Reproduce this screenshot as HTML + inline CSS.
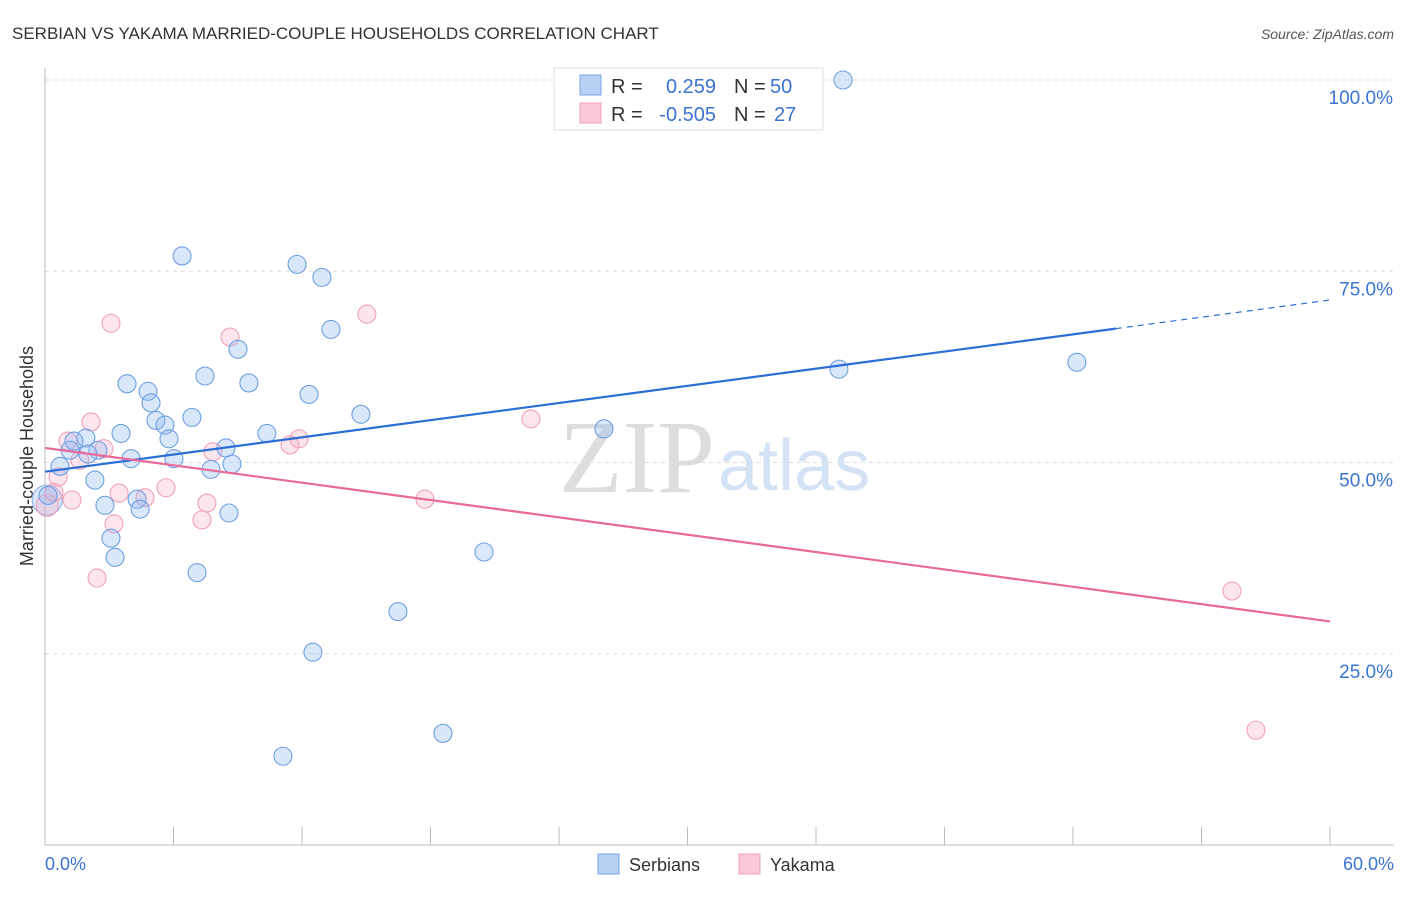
<!DOCTYPE html>
<html><head><meta charset="utf-8"><style>
body{margin:0;background:#fff;font-family:"Liberation Sans",sans-serif}
</style></head><body>
<svg id="chart" width="1406" height="892" xmlns="http://www.w3.org/2000/svg" font-family="Liberation Sans, sans-serif">
<text x="12" y="39" font-size="17" fill="#333">SERBIAN VS YAKAMA MARRIED-COUPLE HOUSEHOLDS CORRELATION CHART</text>
<text x="1394" y="39" font-size="14" fill="#555" font-style="italic" text-anchor="end">Source: ZipAtlas.com</text>
<text x="33" y="456" font-size="18" fill="#333" text-anchor="middle" transform="rotate(-90 33 456)">Married-couple Households</text>
<g id="grid"></g>
<line x1="45" y1="68" x2="45" y2="845" stroke="#bbb"/>
<line x1="45" y1="845" x2="1394" y2="845" stroke="#bbb"/>
<text x="715" y="492" font-size="104" fill="#ddd" text-anchor="end" font-family="Liberation Serif, serif">ZIP</text>
<text x="718" y="490" font-size="72" fill="#d4e2f6">atlas</text>
<g id="ticks"></g>
<g id="marks"></g>
<text x="45" y="870" font-size="18" fill="#3b73d1">0.0%</text>
<text x="1394" y="870" font-size="18" fill="#3b73d1" text-anchor="end">60.0%</text>
<g>
<rect x="554" y="68" width="269" height="62" fill="#fff" stroke="#ddd"/>
<rect x="580" y="75" width="21" height="20" fill="#b7d1f5" stroke="#7aa6e6"/>
<rect x="580" y="103" width="21" height="20" fill="#fac8d6" stroke="#f0a0b8"/>
<text x="611" y="93" font-size="20" fill="#333">R =</text><text x="716" y="93" font-size="20" fill="#3b73d1" text-anchor="end">0.259</text>
<text x="734" y="93" font-size="20" fill="#333">N =</text><text x="770" y="93" font-size="20" fill="#3b73d1">50</text>
<text x="611" y="121" font-size="20" fill="#333">R =</text><text x="716" y="121" font-size="20" fill="#3b73d1" text-anchor="end">-0.505</text>
<text x="734" y="121" font-size="20" fill="#333">N =</text><text x="774" y="121" font-size="20" fill="#3b73d1">27</text>
</g>
<g>
<rect x="598" y="854" width="21" height="20" fill="#b7d1f5" stroke="#7aa6e6"/>
<text x="629" y="871" font-size="18" fill="#333">Serbians</text>
<rect x="739" y="854" width="21" height="20" fill="#fac8d6" stroke="#f0a0b8"/>
<text x="770" y="871" font-size="18" fill="#333">Yakama</text>
</g>
</svg>
<script>
const yTicks=[25,50,75,100];
const yTickLabels=["25.0%","50.0%","75.0%","100.0%"];
const xTicks=[0,6,12,18,24,30,36,42,48,54,60];
const serbX=[37.26,6.40,11.77,12.93,13.35,9.01,48.18,37.07,7.47,3.83,9.52,4.81,12.33,4.95,6.86,14.75,5.18,5.60,26.10,3.55,10.36,5.79,1.91,1.35,8.45,2.47,1.17,2.01,4.02,6.02,8.73,0.70,7.75,2.33,0.14,4.30,2.80,4.44,8.59,3.08,3.27,20.50,7.10,16.48,12.51,18.58,11.11];
const serbY=[100,77.0,75.9,74.2,67.4,64.8,63.1,62.2,61.3,60.3,60.4,59.3,58.9,57.8,55.9,56.3,55.5,54.9,54.4,53.8,53.8,53.1,53.2,52.8,51.9,51.6,51.6,51.1,50.5,50.5,49.8,49.5,49.1,47.7,45.7,45.2,44.4,43.9,43.4,40.1,37.6,38.3,35.6,30.5,25.2,14.6,11.6];
const yakX=[3.08,15.03,8.64,2.15,22.69,1.07,2.75,7.84,11.86,11.44,1.63,0.61,0.42,3.46,5.65,4.67,1.26,7.56,17.74,3.22,7.33,2.43,55.42,56.54];
const yakY=[68.2,69.4,66.4,55.3,55.7,52.8,51.8,51.4,53.1,52.3,50.3,48.1,46.1,46.0,46.7,45.4,45.1,44.7,45.2,42.0,42.5,34.9,33.2,15.0];
const serbTrend=[48.8,0.374]; // intercept, slope
const yakTrend=[51.9,-0.378];
const sx=v=>45+v/60*1285, sy=v=>845-v/100*765;
const NS='http://www.w3.org/2000/svg';
function mk(t,a,p){const e=document.createElementNS(NS,t);for(const k in a)e.setAttribute(k,a[k]);p.appendChild(e);return e;}
const grid=document.getElementById('grid'),ticks=document.getElementById('ticks'),marks=document.getElementById('marks');
yTicks.forEach((v,i)=>{
 const l=mk('line',{x1:45,x2:1394,y1:sy(v),y2:sy(v),stroke:'#ddd','stroke-dasharray':'4,4'},grid);
 
 
 const t=mk('text',{x:1393,y:sy(v)+24,'font-size':19,fill:'#3b73d1','text-anchor':'end'},grid);
 t.textContent=yTickLabels[i];
 
 
});
xTicks.forEach(v=>{
 const l=mk('line',{x1:sx(v),x2:sx(v),y1:827,y2:845,stroke:'#bbb'},ticks);
 
 
});
const b1=mk('circle',{cx:sx(0.1),cy:sy(45.1),r:15,fill:'rgba(147,187,240,0.35)',stroke:'#8ab0e8'},marks);


const b2=mk('circle',{cx:sx(0.1),cy:sy(44.4),r:11,fill:'rgba(244,170,195,0.3)',stroke:'#f0a0b8'},marks);


yakX.forEach((x,i)=>{
 const c=mk('circle',{cx:sx(x),cy:sy(yakY[i]),r:9,fill:'rgba(244,170,195,0.3)',stroke:'#f0a0b8','stroke-width':1.1},marks);
 
 
});
serbX.forEach((x,i)=>{
 const c=mk('circle',{cx:sx(x),cy:sy(serbY[i]),r:9,fill:'rgba(147,187,240,0.35)',stroke:'#6f9fe2','stroke-width':1.1},marks);
 
 
});
const f=(t,x)=>t[0]+t[1]*x;
let l=mk('line',{x1:sx(0),y1:sy(f(serbTrend,0)),x2:sx(50),y2:sy(f(serbTrend,50)),stroke:'#2b6fd6','stroke-width':2.2},marks);


l=mk('line',{x1:sx(50),y1:sy(f(serbTrend,50)),x2:sx(60),y2:sy(f(serbTrend,60)),stroke:'#2b6fd6','stroke-width':1.2,'stroke-dasharray':'6,5'},marks);


l=mk('line',{x1:sx(0),y1:sy(f(yakTrend,0)),x2:sx(60),y2:sy(f(yakTrend,60)),stroke:'#e8699a','stroke-width':2.2},marks);


</script>
</body></html>
